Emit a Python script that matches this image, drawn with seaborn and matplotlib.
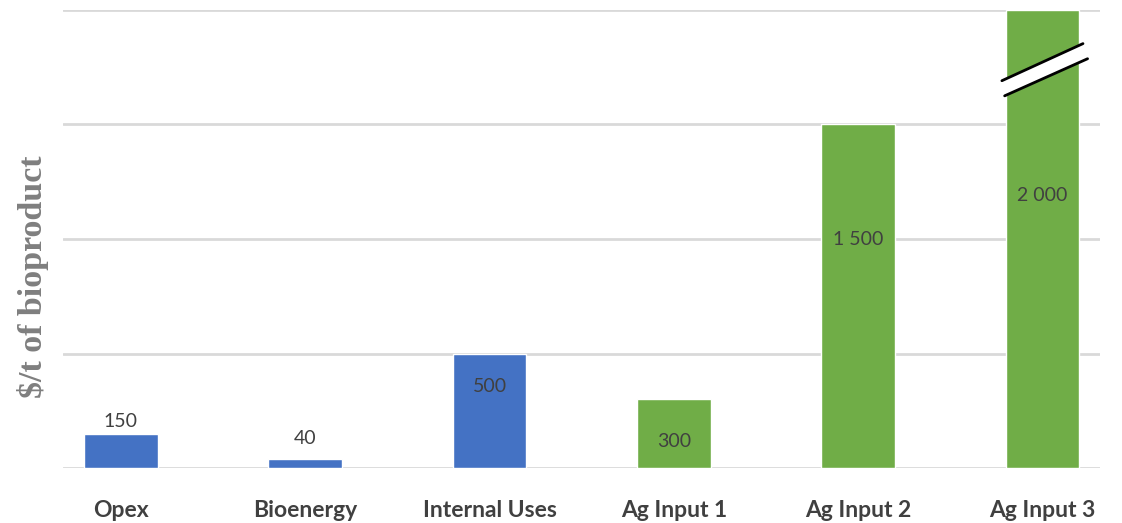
import matplotlib
matplotlib.use("Agg")
import matplotlib.pyplot as plt
import seaborn as sns
import pandas as pd

categories = ["Opex", "Bioenergy", "Internal Uses", "Ag Input 1", "Ag Input 2", "Ag Input 3"]
values = [150, 40, 500, 300, 1500, 2000]
groups = ["cost", "cost", "cost", "ag", "ag", "ag"]
palette = {"cost": "#4472C4", "ag": "#70AD47"}

df = pd.DataFrame({"category": categories, "value": values, "group": groups})

sns.set_theme(style="white")
sans = ["Lato", "DejaVu Sans"]

fig = plt.figure(figsize=(11.22, 5.23), dpi=100)
ax = fig.add_axes([0.056, 0.105, 0.924, 0.876])

sns.barplot(data=df, x="category", y="value", hue="group", palette=palette,
            dodge=False, width=0.40, legend=False, ax=ax, saturation=1)

ax.set_ylim(0, 2000)
ax.set_xlim(-0.315, 5.31)
ax.set_yticks([0, 500, 1000, 1500, 2000])
ax.yaxis.grid(True, color="#D9D9D9", linewidth=2)
ax.set_axisbelow(True)
ax.tick_params(axis="y", left=False, labelleft=False)
ax.tick_params(axis="x", bottom=False, pad=17)
for s in ax.spines.values():
    s.set_visible(False)
ax.set_xlabel("")
ax.set_ylabel("$/t of bioproduct", fontsize=24.5, fontweight="bold",
              family=["Liberation Serif", "DejaVu Serif"], color="#7F7F7F")
ax.yaxis.set_label_coords(-0.0135, 0.417)
for lbl in ax.get_xticklabels():
    lbl.set_fontfamily(sans)
    lbl.set_fontweight("bold")
    lbl.set_fontsize(16.5)
    lbl.set_color("#404040")

def fmt(v):
    return f"{v:,}".replace(",", " ")

# label placement relative to each bar (fraction of bar height, or offset above)
label_pos = [("above", 55), ("above", 90), ("in", 0.71), ("in", 0.39), ("in", 0.665), ("in", 0.595)]
for i, (v, (mode, p)) in enumerate(zip(values, label_pos)):
    y = v + p if mode == "above" else v * p
    ax.text(i, y, fmt(v), ha="center", va="center", fontsize=14,
            family=sans, color="#404040")

# axis-break marker on the tallest bar
i = len(values) - 1
yb = values[i] * 0.886
half = 0.22
slope = 81
gap = 66
xs = [i - half, i + half, i + half + 0.025, i - half + 0.015]
ys = [yb - slope, yb + slope, yb + slope - gap, yb - slope - gap]
ax.fill(xs, ys, color="white", zorder=5, clip_on=False)
ax.plot([i - half, i + half], [yb - slope, yb + slope], color="black", lw=2, zorder=6, clip_on=False)
ax.plot([i - half + 0.015, i + half + 0.025], [yb - slope - gap, yb + slope - gap],
        color="black", lw=2, zorder=6, clip_on=False)

fig.savefig("out.png", dpi=100)
